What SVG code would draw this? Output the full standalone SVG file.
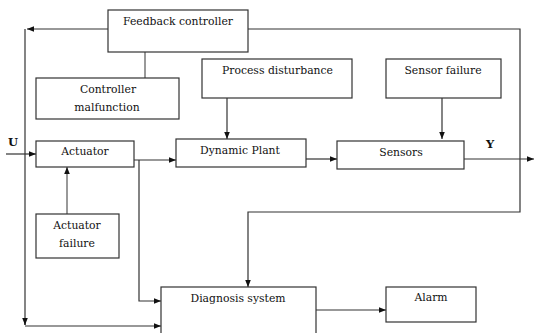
<svg xmlns="http://www.w3.org/2000/svg" width="534" height="333" viewBox="0 0 534 333">
<style>
.box{fill:#fff;stroke:#333;stroke-width:1.2}
.c{fill:none;stroke:#333;stroke-width:1.2}
.g{fill:none;stroke:#777;stroke-width:1.5}
</style>
<defs>
<marker id="a" viewBox="0 0 10 10" refX="10" refY="5" markerWidth="7" markerHeight="7" markerUnits="userSpaceOnUse" orient="auto"><path d="M0,1 L10,5 L0,9 z" fill="#111"/></marker>
</defs>
<rect width="534" height="333" fill="#fff"/>
<g id="connectors">
<path class="c" d="M108,29 H27" marker-end="url(#a)"/>
<path class="c" d="M25,29 V325"/>
<path class="c" d="M25,319 V325" marker-end="url(#a)"/>
<path class="c" d="M25,326 H161" marker-end="url(#a)"/>
<path class="c" d="M248,29 H520 V212 H248 V287" marker-end="url(#a)"/>
<path class="g" d="M145,52 V78"/>
<path class="c" d="M227,98 V139" marker-end="url(#a)"/>
<path class="c" d="M442,98 V139" marker-end="url(#a)"/>
<path class="c" d="M6,154 H36" marker-end="url(#a)"/>
<path class="c" d="M134,160 H176" marker-end="url(#a)"/>
<path class="c" d="M139,160 V301 H161" marker-end="url(#a)"/>
<path class="g" d="M67,214 V167" marker-end="url(#a)"/>
<path class="c" d="M306,159 H337" marker-end="url(#a)"/>
<path class="c" d="M464,159 H534" marker-end="url(#a)"/>
<path class="c" d="M316,310 H386" marker-end="url(#a)"/>
</g>
<g font-family="DejaVu Serif, serif" font-size="10.8" fill="#111" text-anchor="middle">
<g id="feedback"><rect class="box" x="108" y="10" width="140" height="42"/><text x="178" y="25">Feedback controller</text></g>
<g id="malfunction"><rect class="box" x="36" y="78" width="143" height="41"/><text x="108" y="93">Controller</text><text x="107" y="111">malfunction</text></g>
<g id="disturbance"><rect class="box" x="202" y="59" width="150" height="39"/><text x="277.5" y="74">Process disturbance</text></g>
<g id="sensorfail"><rect class="box" x="386" y="59" width="115" height="39"/><text x="443" y="74">Sensor failure</text></g>
<g id="actuator"><rect class="box" x="36" y="141" width="98" height="26"/><text x="85" y="155">Actuator</text></g>
<g id="plant"><rect class="box" x="176" y="139" width="130" height="28"/><text x="240" y="154">Dynamic Plant</text></g>
<g id="sensors"><rect class="box" x="337" y="141" width="127" height="28"/><text x="401" y="156">Sensors</text></g>
<g id="actfail"><rect class="box" x="36" y="214" width="83" height="44"/><text x="77" y="229">Actuator</text><text x="77" y="247">failure</text></g>
<g id="diagnosis"><rect class="box" x="161" y="287" width="155" height="60"/><text x="238" y="302">Diagnosis system</text></g>
<g id="alarm"><rect class="box" x="386" y="287" width="90" height="35"/><text x="431" y="301">Alarm</text></g>
<text x="13" y="146" font-weight="bold" font-size="11.5">U</text>
<text x="490" y="148" font-weight="bold" font-size="11.5">Y</text>
</g>
</svg>
